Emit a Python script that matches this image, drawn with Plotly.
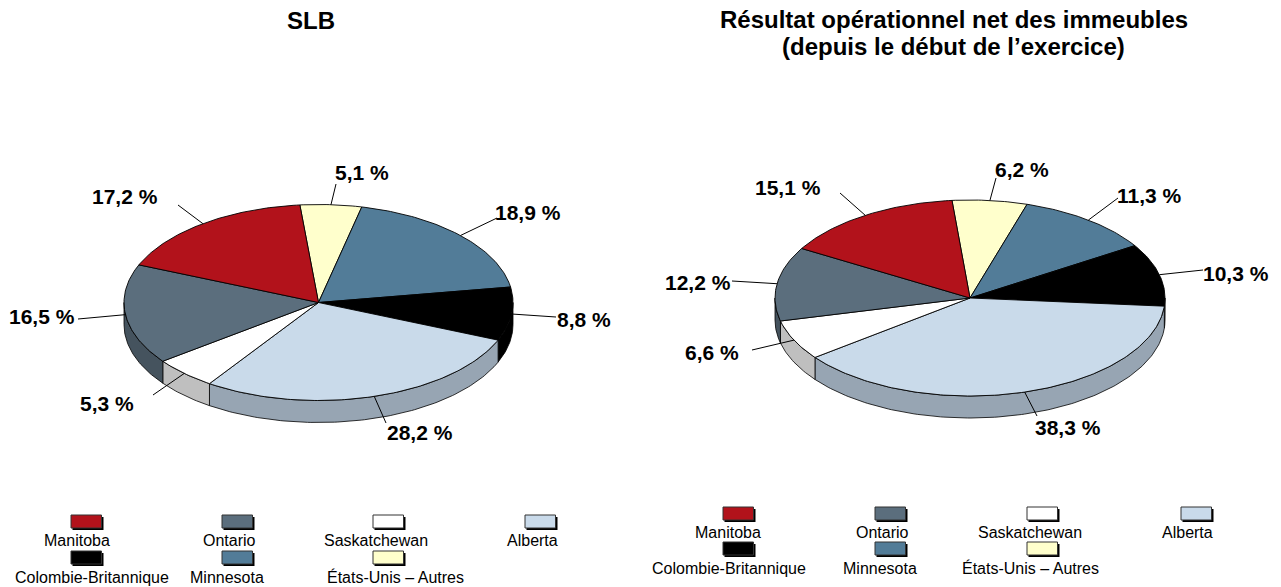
import math
import plotly.graph_objects as go

# ---- data ----
categories = ["États-Unis – Autres", "Minnesota", "Colombie-Britannique", "Alberta",
              "Saskatchewan", "Ontario", "Manitoba"]
slb_values = [5.1, 18.9, 8.8, 28.2, 5.3, 16.5, 17.2]
noi_values = [6.2, 11.3, 10.3, 38.3, 6.6, 12.2, 15.1]
title_lines = [["SLB"], ["Résultat opérationnel net des immeubles", "(depuis le début de l’exercice)"]]
legend_order = ["Manitoba", "Ontario", "Saskatchewan", "Alberta",
                "Colombie-Britannique", "Minnesota", "États-Unis – Autres"]

# ---- styles ----
top_colors = {"États-Unis – Autres": "#ffffcc", "Minnesota": "#527c98", "Colombie-Britannique": "#000000",
              "Alberta": "#c9daea", "Saskatchewan": "#ffffff", "Ontario": "#5b6e7d", "Manitoba": "#b2121b"}
side_colors = {"États-Unis – Autres": "#bfbf99", "Minnesota": "#3e5d72", "Colombie-Britannique": "#000000",
               "Alberta": "#97a5b3", "Saskatchewan": "#bfbfbf", "Ontario": "#45535e", "Manitoba": "#860e14"}
FONT = "Liberation Sans, Arial, sans-serif"

# ---- layout (pixels) ----
pies = [
    dict(values=slb_values, cx=318.5, cy=302.5, rx=194.5, ry=98, depth=22, start=-5.5,
         label_xy=[(362, 172), (528, 212), (584, 319), (420, 432), (107, 403), (42, 316), (125, 196)],
         leader_end=[(336, 184), (497, 218), (556, 317), (386, 423), (153, 395), (78, 319), (178, 205)],
         title_x=311, title_y=[20],
         legend_x=[87, 238, 389, 541], legend_y=[(515, 540), (551, 577)],
         legend_tx=[77, 229, 376, 532, 92, 227, 395]),
    dict(values=noi_values, cx=970, cy=298, rx=195, ry=98, depth=22, start=-5.3,
         label_xy=[(1022, 169), (1149, 195), (1236, 273), (1068, 427), (712, 352), (698, 282), (788, 187)],
         leader_end=[(996, 178), (1118, 198), (1203, 270), (1037, 416), (752, 350), (732, 281), (840, 193)],
         title_x=953.5, title_y=[19, 46],
         legend_x=[739, 891, 1043, 1197], legend_y=[(507, 532), (542, 568)],
         legend_tx=[728, 882, 1030, 1187, 729, 880, 1030]),
]


def rim(p, a0, a1, shift=0.0):
    n = max(2, int(abs(a1 - a0)) + 2)
    xs, ys = [], []
    for i in range(n):
        a = math.radians(a0 + (a1 - a0) * i / (n - 1))
        xs.append(p["cx"] + p["rx"] * math.sin(a))
        ys.append(p["cy"] - p["ry"] * math.cos(a) + shift)
    return xs, ys


fig = go.Figure()
annotations, shapes = [], []

for pi, p in enumerate(pies):
    total = sum(p["values"])
    bounds = [p["start"]]
    for v in p["values"]:
        bounds.append(bounds[-1] + 360.0 * v / total)

    # side wall: only the front half of the rim (90°..270°) can be seen
    for i, cat in enumerate(categories):
        a0, a1 = max(bounds[i], 90.0), min(bounds[i + 1], 270.0)
        if a1 <= a0:
            continue
        xt, yt = rim(p, a0, a1)
        xb, yb = rim(p, a1, a0, p["depth"])
        fig.add_trace(go.Scatter(x=xt + xb + xt[:1], y=yt + yb + yt[:1], mode="lines", fill="toself",
                                 fillcolor=side_colors[cat], line=dict(color="#000000", width=0.8),
                                 hoverinfo="skip", showlegend=False))

    # top face
    for i, cat in enumerate(categories):
        xt, yt = rim(p, bounds[i], bounds[i + 1])
        fig.add_trace(go.Scatter(x=[p["cx"]] + xt + [p["cx"]], y=[p["cy"]] + yt + [p["cy"]],
                                 mode="lines", fill="toself", fillcolor=top_colors[cat],
                                 line=dict(color="#000000", width=0.9), name=cat,
                                 hovertemplate=f"{cat}: {p['values'][i]:.1f} %<extra></extra>"))

    # leader lines and value labels
    for i, v in enumerate(p["values"]):
        mid = (bounds[i] + bounds[i + 1]) / 2
        xm, ym = rim(p, mid, mid + 0.001)
        ex, ey = p["leader_end"][i]
        fig.add_trace(go.Scatter(x=[xm[0], ex], y=[ym[0], ey], mode="lines",
                                 line=dict(color="#000000", width=1), hoverinfo="skip"))
        lx, ly = p["label_xy"][i]
        annotations.append(dict(x=lx, y=ly, xref="x", yref="y", showarrow=False,
                                text="<b>" + f"{v:.1f} %".replace(".", ",") + "</b>",
                                font=dict(family=FONT, size=21, color="#000000")))

    # title
    for line, ty in zip(title_lines[pi], p["title_y"]):
        annotations.append(dict(x=p["title_x"], y=ty, xref="x", yref="y", showarrow=False,
                                text=f"<b>{line}</b>",
                                font=dict(family=FONT, size=24, color="#000000")))

    # legend
    for k, cat in enumerate(legend_order):
        col, row = k % 4, k // 4
        x = p["legend_x"][col]
        y_sw, y_tx = p["legend_y"][row]
        shapes.append(dict(type="rect", xref="x", yref="y", x0=x - 14.5, x1=x + 16.5, y0=y_sw + 2, y1=y_sw + 15,
                           fillcolor="#000000", line=dict(width=0), layer="below"))
        shapes.append(dict(type="rect", xref="x", yref="y", x0=x - 16, x1=x + 14.5, y0=y_sw, y1=y_sw + 13,
                           fillcolor=top_colors[cat], line=dict(color="#333333", width=1), layer="below"))
        annotations.append(dict(x=p["legend_tx"][k], y=y_tx, xref="x", yref="y", showarrow=False, text=cat,
                                font=dict(family=FONT, size=16, color="#000000")))

fig.update_layout(
    width=1281, height=587, margin=dict(l=0, r=0, t=0, b=0),
    paper_bgcolor="#ffffff", plot_bgcolor="#ffffff", showlegend=False,
    xaxis=dict(range=[0, 1281], visible=False, fixedrange=True),
    yaxis=dict(range=[587, 0], visible=False, fixedrange=True),
    annotations=annotations, shapes=shapes,
)
fig.write_html("out.html", config={"displayModeBar": False},
               post_script="document.body.style.margin='0';document.body.style.overflow='hidden';")
